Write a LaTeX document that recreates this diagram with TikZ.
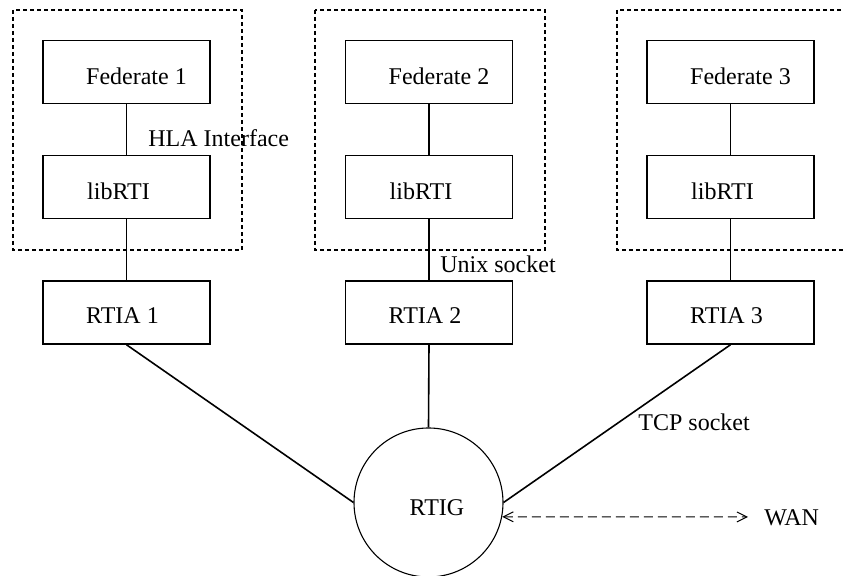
\documentclass[tikz,border=0pt]{standalone}
\usepackage{fontspec}
\setmainfont{Liberation Serif}
\usetikzlibrary{arrows.meta}
\begin{document}
\begin{tikzpicture}[x=0.5pt,y=-0.5pt,
  every node/.style={font=\fontsize{12pt}{14pt}\selectfont},
  box/.style={draw, line width=0.75pt, minimum width=83.5pt, minimum height=31.5pt, inner sep=0pt},
  hub/.style={draw, circle, line width=0.55pt, minimum size=74.5pt, inner sep=0pt},
  link/.style={line width=0.8pt},
  groupbox/.style={line width=0.6pt, dash pattern=on 2pt off 1.5pt},
  wanarrow/.style={line width=0.5pt, dash pattern=on 4.5pt off 2.5pt, {Straight Barb[length=5pt,width=5pt]}-{Straight Barb[length=5pt,width=5pt]}},
  plain/.style={inner sep=0pt, anchor=west},
  fedlab/.style={xshift=5pt, yshift=-2pt},
  liblab/.style={xshift=-4pt, yshift=-2pt},
  rtialab/.style={xshift=-2pt, yshift=-1.75pt}]
\useasboundingbox (0,0) rectangle (843,576);
\clip (0,0) rectangle (843,576);

% group boxes
\draw[groupbox] (13,10) rectangle (242,250);
\draw[groupbox] (315,10) rectangle (545,250);
\draw[groupbox] (617,10) rectangle (860,250);

% federates
\node[box, label={[fedlab]center:Federate 1}] (f1) at (126.5,72) {};
\node[box, label={[fedlab]center:Federate 2}] (f2) at (429,72) {};
\node[box, label={[fedlab]center:Federate 3}] (f3) at (730.5,72) {};

% libRTI
\node[box, label={[liblab]center:libRTI}] (l1) at (126.5,187) {};
\node[box, label={[liblab]center:libRTI}] (l2) at (429,187) {};
\node[box, label={[liblab]center:libRTI}] (l3) at (730.5,187) {};

% RTIA
\node[box, label={[rtialab]center:RTIA 1}] (r1) at (126.5,312.5) {};
\node[box, label={[rtialab]center:RTIA 2}] (r2) at (429,312.5) {};
\node[box, label={[rtialab]center:RTIA 3}] (r3) at (730.5,312.5) {};

% RTIG
\node[hub, label={[xshift=4.25pt,yshift=-2.75pt]center:RTIG}] (rtig) at (428.5,502.5) {};

% connectors
\draw[link] (f1.south) -- (l1.north);
\draw[link] (f2.south) -- (l2.north);
\draw[link] (f3.south) -- (l3.north);
\draw[link] (l1.south) -- (r1.north);
\draw[link] (l2.south) -- (r2.north);
\draw[link] (l3.south) -- (r3.north);
\draw[link] (r1.south) -- (rtig.west);
\draw[link] (r2.south) -- (rtig.north);
\draw[link] (r3.south) -- (rtig.east);

% labels
\node[plain] (hla) at (148,138) {HLA Interface};
\node[plain] (unix) at (440,264) {Unix socket};
\node[plain] (tcp) at (638,422) {TCP socket};
\node[plain] (wan) at (764,518) {WAN};

\coordinate (wanend) at (748,517);
\draw[wanarrow] (rtig.-11) -- (wanend);
\end{tikzpicture}
\end{document}
